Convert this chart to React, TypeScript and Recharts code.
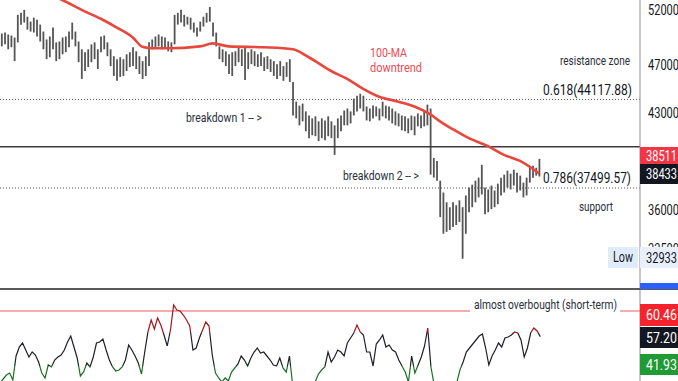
import React from 'react';
import { ComposedChart, LineChart, Bar, Line, XAxis, YAxis, ReferenceLine } from 'recharts';

// price bars (one entry per bar, oldest first)
const HIGHS = [
  49790, 49880, 49700, 49610, 49430, 51530, 51720, 52000, 51350, 50890,
  51260, 51070, 50610, 49970, 49250, 49520, 50340, 48990, 49070, 49430,
  49520, 49970, 50800, 49970, 49070, 48370, 48110, 48370, 48810, 48990,
  48370, 49520, 49610, 48990, 48370, 47760, 47500, 47670, 47500, 47930,
  48110, 48550, 48190, 47760, 47330, 47760, 48990, 49250, 49520, 49700,
  49520, 49430, 49070, 48990, 51530, 51720, 52000, 51530, 51350, 51260,
  50800, 50340, 50890, 51350, 51720, 52280, 50800, 49880, 48630, 48370,
  48190, 47930, 48110, 48190, 48630, 48370, 48550, 48110, 48370, 48190,
  47930, 48110, 47670, 47760, 47500, 47330, 47070, 47330, 46900, 47240,
  47500, 45560, 43940, 43620, 43780, 43160, 42840, 42610, 42770, 42380,
  42610, 42450, 42770, 42380, 42070, 42610, 42840, 43230, 43390, 43160,
  44180, 44420, 44580, 44420, 43550, 43390, 43620, 43550, 43390, 43940,
  43620, 43550, 43390, 43160, 43000, 42840, 42770, 42610, 42840, 42770,
  43000, 42840, 43160, 43700, 43390, 39630, 39410, 38010, 37190, 36530,
  36200, 36530, 36330, 36660, 36200, 36990, 37530, 37730, 38010, 38220,
  39130, 37530, 37400, 37670, 37330, 37800, 38220, 38430, 38710, 38500,
  38780, 38570, 38360, 37870, 38220, 38920, 39060, 38920, 39560,
];
const LOWS = [
  48630, 48810, 48370, 48550, 47330, 48990, 50610, 50800, 50150, 49970,
  49880, 49520, 49070, 48370, 47500, 47670, 48370, 47330, 47500, 47930,
  48110, 48550, 49250, 48630, 47240, 45810, 46480, 46820, 47240, 47500,
  46650, 48110, 48370, 47760, 46900, 46060, 45650, 45980, 46060, 46480,
  46820, 46900, 46650, 46230, 45810, 46060, 46900, 48370, 48550, 48630,
  48370, 48550, 48190, 48110, 48810, 50610, 50800, 50430, 50610, 50150,
  49880, 49520, 49970, 50430, 50800, 50890, 49520, 48630, 47500, 47240,
  46900, 46230, 46060, 46900, 47240, 46900, 45730, 46650, 47070, 46900,
  46820, 46900, 46480, 46650, 46400, 46060, 45810, 46060, 45650, 45980,
  45560, 42840, 42610, 42070, 42380, 41610, 41090, 41310, 41240, 40870,
  41090, 40940, 41240, 41090, 39850, 41090, 41610, 42070, 42070, 42220,
  42840, 43160, 43390, 43160, 42450, 42380, 42610, 42770, 42450, 42770,
  42610, 42450, 42220, 42070, 41990, 41690, 41610, 41460, 41690, 41310,
  41990, 41840, 41990, 42070, 38430, 38220, 38010, 35550, 34480, 34600,
  34720, 34910, 35040, 35230, 32933, 34480, 35870, 36200, 36530, 36860,
  37060, 35740, 35870, 36070, 36200, 36400, 36990, 37190, 37530, 37400,
  37670, 37190, 37330, 36860, 36990, 37870, 38220, 38360, 38300,
];
const LAST_CLOSE = 38433;

// 100-MA, read at a handful of bars
const MA_AT = [12, 16, 19, 25, 31, 36, 41, 44, 47, 52, 62, 66, 71, 82, 91, 96, 103, 108, 113, 118, 124, 129, 134, 137, 141, 146, 152, 157, 162, 168];
const MA_VALUES = [
  54000, 53380, 52950, 52000, 51160, 50340, 49430, 48590, 48460, 48460,
  48630, 48900, 48630, 48550, 48370, 47670, 46480, 45810, 44990, 44340,
  43940, 43550, 42920, 42380, 41770, 41090, 40500, 39850, 39410, 38511,
];

const RSI = [
  34, 36, 38, 39, 35.5, 47.5, 52, 54, 50.5, 47,
  49.5, 48, 44.5, 39, 36.5, 43, 42, 45.5, 47, 48,
  50.5, 54.5, 57.5, 52, 46.5, 37.5, 39.5, 44, 42, 47,
  54, 54.5, 56, 50.5, 45.5, 42, 40, 40.5, 42, 45.5,
  53, 50.5, 47.5, 44, 38.5, 49.5, 59.5, 65.5, 61, 66.5,
  63, 58, 52.5, 60.5, 73, 70.5, 70, 68, 65.5, 62.5,
  50.5, 51.5, 56.5, 60.5, 64.5, 62.5, 48, 39, 36.5, 34.5,
  36.5, 35, 39.5, 41.5, 43.5, 47.5, 45.5, 42.5, 46.5, 49.5,
  51.5, 49, 49.5, 47.5, 45.5, 43, 42.5, 46.5, 41.5, 39.5,
  47.5, 33, 30, 28, 29, 27, 29, 31, 34.5, 38.5,
  40.5, 42, 49.5, 44.5, 47, 50.5, 49.5, 47.5, 54, 56.5,
  59, 63, 59.5, 58, 49.5, 49.5, 42.5, 53.5, 55.5, 58,
  52, 53, 50.5, 49.5, 45.5, 42.5, 39.5, 34.5, 47.5, 39,
  43, 47, 52.5, 61.5, 42, 33, 30, 27, 25, 26,
  28, 30, 34, 40.5, 44.5, 49.5, 51.5, 53.5, 55.5, 57.5,
  58.5, 51.5, 43, 47.5, 50.5, 54, 52, 56.5, 57, 58,
  59.5, 59, 55.5, 47, 51.5, 59, 61.5, 60, 57.2,
];
const RSI_SIDE = [60.46, 57.2, 41.93];

const PRICE_TICKS = [33500, 36000, 43000, 47000, 52000];
const PRICE_DOMAIN = [31155, 52950];
const FIB_618 = 44117.88;
const FIB_786 = 37499.57;
const BREAK_LEVEL = 40450;
const RSI_DOMAIN = [35, 81];
const RSI_TICKS = [80];
const RSI_BAND = 70;
const RSI_HOT = 59;
const RSI_COLD = 42.5;

const SLOTS = 200; // empty room on the right like the trading screen
const W = 678;
const PRICE_H = 289;
const RSI_H = 92;
const AXIS_W = 38;

const rows = Array.from({ length: SLOTS }, (_, i) => {
  const k = MA_AT.indexOf(i);
  return {
    i,
    range: i < HIGHS.length ? [LOWS[i], HIGHS[i]] : undefined,
    ma: k >= 0 ? MA_VALUES[k] : null,
    rsi: i < RSI.length ? RSI[i] : null,
  };
});

const HiLoBar = (props: any) => {
  const { x, y, width, height } = props;
  if (y == null || height == null || isNaN(y)) return null;
  const cx = x + width / 2;
  return <line x1={cx} x2={cx} y1={y} y2={y + height} stroke="#555" strokeWidth={1.8} />;
};

const AxisTick = (props: any) => {
  const { x, y, payload, digits = 0 } = props;
  const label = digits ? payload.value.toFixed(digits) : String(payload.value);
  return (
    <text x={x} y={y} dy={5} fontSize={14} fill="#131722" fontFamily="Roboto" textLength={31} lengthAdjust="spacingAndGlyphs">
      {label}
    </text>
  );
};

const Note = ({ x, y, w, size = 13, fill = '#2a2e39', children }: any) => (
  <text x={x} y={y} fontSize={size} fill={fill} fontFamily="Roboto" textLength={w} lengthAdjust="spacingAndGlyphs">
    {children}
  </text>
);

const SideLabel = ({ y, h, fill, color = '#fff', children }: any) => (
  <g>
    <rect x={W - AXIS_W} y={y} width={AXIS_W} height={h} fill={fill} />
    <text x={646} y={y + h / 2 + 5} fontSize={14} fill={color} fontFamily="Roboto" textLength={31} lengthAdjust="spacingAndGlyphs">
      {children}
    </text>
  </g>
);

export default function App() {
  const span = RSI_DOMAIN[1] - RSI_DOMAIN[0];
  const hotOff = (RSI_DOMAIN[1] - RSI_HOT) / span;
  const coldOff = (RSI_DOMAIN[1] - RSI_COLD) / span;
  const lowest = Math.min(...LOWS);
  const maLast = MA_VALUES[MA_VALUES.length - 1];
  const rsiLast = RSI[RSI.length - 1];

  return (
    <div style={{ position: 'absolute', left: 0, top: 0, width: W, height: 381, overflow: 'hidden', background: '#fff' }}>
      <div style={{ position: 'absolute', left: 0, top: 0 }}>
        <ComposedChart width={W} height={PRICE_H} data={rows} margin={{ top: 0, right: 0, bottom: 0, left: 0 }}>
          <XAxis dataKey="i" hide />
          <YAxis
            orientation="right"
            width={AXIS_W}
            scale="log"
            domain={PRICE_DOMAIN}
            ticks={PRICE_TICKS}
            interval={0}
            allowDataOverflow
            tickLine={false}
            axisLine={{ stroke: '#8d8f96' }}
            tick={<AxisTick />}
          />
          <ReferenceLine y={FIB_618} stroke="#555" strokeDasharray="1 2" />
          <ReferenceLine y={BREAK_LEVEL} stroke="#3a3a3a" strokeWidth={1.5} />
          <ReferenceLine y={FIB_786} stroke="#555" strokeDasharray="1 2" />
          <Bar dataKey="range" shape={<HiLoBar />} isAnimationActive={false} />
          <Line dataKey="ma" type="monotone" connectNulls dot={false} stroke="#e8473d" strokeWidth={2.6} isAnimationActive={false} />
        </ComposedChart>
      </div>
      <div style={{ position: 'absolute', left: 0, top: PRICE_H }}>
        <LineChart width={W} height={RSI_H} data={rows} margin={{ top: 0, right: 0, bottom: 0, left: 0 }}>
          <defs>
            <linearGradient id="rsiStroke" gradientUnits="userSpaceOnUse" x1="0" y1="0" x2="0" y2={RSI_H}>
              <stop offset={0} stopColor="#a3141c" />
              <stop offset={hotOff} stopColor="#a3141c" />
              <stop offset={hotOff} stopColor="#1c1f26" />
              <stop offset={coldOff} stopColor="#1c1f26" />
              <stop offset={coldOff} stopColor="#1b6e22" />
              <stop offset={1} stopColor="#1b6e22" />
            </linearGradient>
          </defs>
          <XAxis dataKey="i" hide />
          <YAxis
            orientation="right"
            width={AXIS_W}
            domain={RSI_DOMAIN}
            ticks={RSI_TICKS}
            allowDataOverflow
            tickLine={false}
            axisLine={{ stroke: '#8d8f96' }}
            tick={<AxisTick digits={2} />}
          />
          <ReferenceLine y={RSI_BAND} stroke="#f25c5c" strokeWidth={1.2} />
          <Line dataKey="rsi" stroke="url(#rsiStroke)" strokeWidth={1.2} dot={false} isAnimationActive={false} />
        </LineChart>
      </div>
      <svg width={W} height={381} style={{ position: 'absolute', left: 0, top: 0, pointerEvents: 'none' }}>
        <rect x={0} y={PRICE_H - 1} width={W} height={2} fill="#5a5a5a" />
        <rect x={W - AXIS_W} y={283} width={AXIS_W} height={6} fill="#2962ff" />

        <Note x={370} y={57} w={37} size={13} fill="#ee4b52">100-MA</Note>
        <Note x={370} y={71.5} w={52} size={13} fill="#ee4b52">downtrend</Note>
        <Note x={560} y={65} w={70}>resistance zone</Note>
        <Note x={543} y={95} w={89} size={15} fill="#131722">{`0.618(${FIB_618})`}</Note>
        <Note x={186} y={122} w={76}>breakdown 1 -- &gt;</Note>
        <Note x={343} y={180} w={76}>breakdown 2 -- &gt;</Note>
        <Note x={543} y={183} w={88} size={15} fill="#131722">{`0.786(${FIB_786})`}</Note>
        <Note x={579} y={211} w={34}>support</Note>

        <rect x={470} y={300} width={150} height={14} fill="#fff" />
        <Note x={474} y={309} w={143}>almost overbought (short-term)</Note>

        <SideLabel y={147} h={17} fill="#f23645">{maLast}</SideLabel>
        <SideLabel y={164} h={20} fill="#131722">{LAST_CLOSE}</SideLabel>
        <rect x={608} y={247} width={30} height={21} fill="#e1ecfb" />
        <Note x={613} y={262} w={20} size={14} fill="#131722">Low</Note>
        <SideLabel y={247} h={21} fill="#e9f0fc" color="#131722">{lowest}</SideLabel>

        <SideLabel y={304} h={22} fill="#f7232a">{RSI_SIDE[0].toFixed(2)}</SideLabel>
        <SideLabel y={327} h={21} fill="#131722">{rsiLast.toFixed(2)}</SideLabel>
        <SideLabel y={354} h={21} fill="#1f9a34">{RSI_SIDE[2].toFixed(2)}</SideLabel>
      </svg>
    </div>
  );
}
